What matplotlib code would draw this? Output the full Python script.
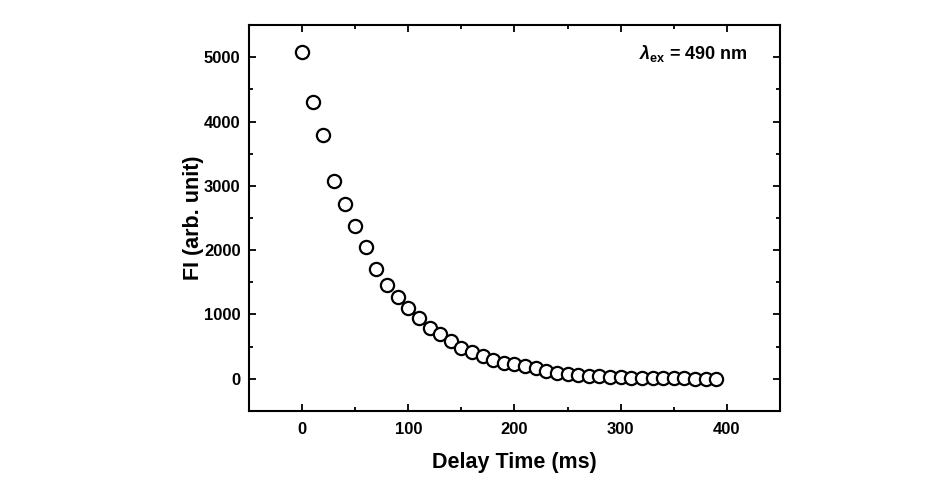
import numpy as np
import matplotlib.pyplot as plt

plt.rcParams['font.family'] = ['Liberation Sans', 'DejaVu Sans']
plt.rcParams['font.weight'] = 'bold'
plt.rcParams['mathtext.fontset'] = 'custom'
plt.rcParams['mathtext.it'] = 'Liberation Sans:bold:italic'
plt.rcParams['mathtext.rm'] = 'Liberation Sans:bold'
plt.rcParams['mathtext.bf'] = 'Liberation Sans:bold'

# delay time (ms) and fluorescence intensity
delay_ms = [0, 10, 20, 30, 40, 50, 60, 70, 80, 90,
            100, 110, 120, 130, 140, 150, 160, 170, 180, 190,
            200, 210, 220, 230, 240, 250, 260, 270, 280, 290,
            300, 310, 320, 330, 340, 350, 360, 370, 380, 390]
fl_intensity = [5080, 4310, 3790, 3080, 2720, 2370, 2050, 1700, 1465, 1270,
                1107, 946, 796, 703, 583, 479, 417, 355, 299, 252,
                223, 195, 168, 121, 96, 81, 65, 50, 39, 28,
                23, 16, 12, 10, 8, 6, 5, 4, 3, 2]

fig = plt.figure(figsize=(9.3, 4.83), dpi=100)
ax = fig.add_axes([0.2677, 0.1491, 0.5710, 0.7991])

ax.plot(delay_ms, fl_intensity, 'o', mfc='white', mec='black',
        ms=9.5, mew=1.6, linestyle='none')

ax.set_xlim(-50, 450)
ax.set_ylim(-500, 5500)
ax.set_xticks([0, 100, 200, 300, 400])
ax.set_xticks(np.arange(-50, 451, 50), minor=True)
ax.set_yticks([0, 1000, 2000, 3000, 4000, 5000])
ax.set_yticks(np.arange(-500, 5501, 500), minor=True)

ax.tick_params(which='both', direction='in', top=True, right=True,
               width=1.3, labelsize=12)
ax.tick_params(which='major', length=5)
ax.tick_params(which='minor', length=3)
ax.tick_params(axis='x', which='major', pad=8)
ax.tick_params(axis='y', which='major', pad=6)
for lab in ax.get_xticklabels() + ax.get_yticklabels():
    lab.set_fontweight('bold')
for s in ax.spines.values():
    s.set_linewidth(1.5)

ax.set_xlabel('Delay Time (ms)', fontsize=15.5, fontweight='bold', labelpad=11)
ax.set_ylabel('FI (arb. unit)', fontsize=15.5, fontweight='bold', labelpad=0)

ax.text(0.94, 0.925, r'$\lambda_{\rm ex}$ = 490 nm',
        transform=ax.transAxes, ha='right', va='center',
        fontsize=13, fontweight='bold')

fig.savefig('out.png', dpi=100)
